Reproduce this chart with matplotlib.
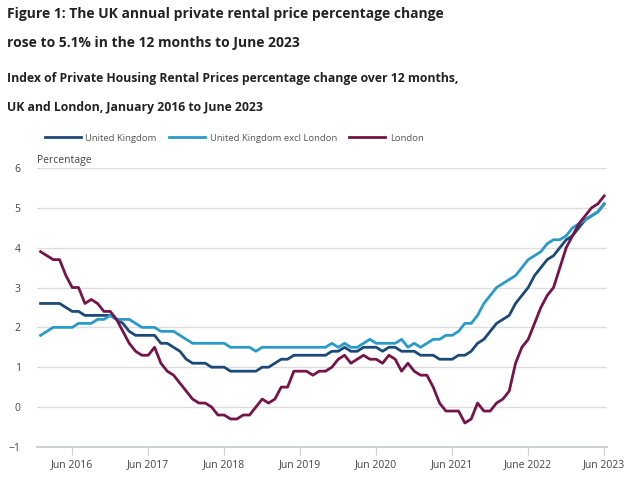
import matplotlib.pyplot as plt
import numpy as np

# 12-month % change, monthly from Jan 2016 to Jun 2023
uk = [2.6, 2.6, 2.6, 2.6, 2.5, 2.4, 2.4, 2.3, 2.3, 2.3, 2.3, 2.3,
      2.2, 2.1, 1.9, 1.8, 1.8, 1.8, 1.8, 1.6, 1.6, 1.5, 1.4, 1.2,
      1.1, 1.1, 1.1, 1.0, 1.0, 1.0, 0.9, 0.9, 0.9, 0.9, 0.9, 1.0,
      1.0, 1.1, 1.2, 1.2, 1.3, 1.3, 1.3, 1.3, 1.3, 1.3, 1.4, 1.4,
      1.5, 1.4, 1.4, 1.5, 1.5, 1.5, 1.4, 1.5, 1.5, 1.4, 1.4, 1.4,
      1.3, 1.3, 1.3, 1.2, 1.2, 1.2, 1.3, 1.3, 1.4, 1.6, 1.7, 1.9,
      2.1, 2.2, 2.3, 2.6, 2.8, 3.0, 3.3, 3.5, 3.7, 3.8, 4.0, 4.2,
      4.3, 4.5, 4.7, 4.8, 4.9, 5.1]

uk_excl_london = [1.8, 1.9, 2.0, 2.0, 2.0, 2.0, 2.1, 2.1, 2.1, 2.2, 2.2, 2.3,
                  2.2, 2.2, 2.2, 2.1, 2.0, 2.0, 2.0, 1.9, 1.9, 1.9, 1.8, 1.7,
                  1.6, 1.6, 1.6, 1.6, 1.6, 1.6, 1.5, 1.5, 1.5, 1.5, 1.4, 1.5,
                  1.5, 1.5, 1.5, 1.5, 1.5, 1.5, 1.5, 1.5, 1.5, 1.5, 1.6, 1.5,
                  1.6, 1.5, 1.5, 1.6, 1.7, 1.6, 1.6, 1.6, 1.6, 1.7, 1.5, 1.6,
                  1.5, 1.6, 1.7, 1.7, 1.8, 1.8, 1.9, 2.1, 2.1, 2.3, 2.6, 2.8,
                  3.0, 3.1, 3.2, 3.3, 3.5, 3.7, 3.8, 3.9, 4.1, 4.2, 4.2, 4.3,
                  4.5, 4.6, 4.7, 4.8, 4.9, 5.1]

london = [3.9, 3.8, 3.7, 3.7, 3.3, 3.0, 3.0, 2.6, 2.7, 2.6, 2.4, 2.4,
          2.2, 1.9, 1.6, 1.4, 1.3, 1.3, 1.5, 1.1, 0.9, 0.8, 0.6, 0.4,
          0.2, 0.1, 0.1, 0.0, -0.2, -0.2, -0.3, -0.3, -0.2, -0.2, 0.0, 0.2,
          0.1, 0.2, 0.5, 0.5, 0.9, 0.9, 0.9, 0.8, 0.9, 0.9, 1.0, 1.2,
          1.3, 1.1, 1.2, 1.3, 1.2, 1.2, 1.1, 1.3, 1.2, 0.9, 1.1, 0.9,
          0.8, 0.8, 0.5, 0.1, -0.1, -0.1, -0.1, -0.4, -0.3, 0.1, -0.1, -0.1,
          0.1, 0.2, 0.4, 1.1, 1.5, 1.7, 2.1, 2.5, 2.8, 3.0, 3.5, 4.0,
          4.3, 4.6, 4.8, 5.0, 5.1, 5.3]

tick_labels = ['Jun 2016', 'Jun 2017', 'Jun 2018', 'Jun 2019', 'Jun 2020',
               'Jun 2021', 'June 2022', 'Jun 2023']

plt.rcParams['font.family'] = ['Open Sans', 'DejaVu Sans']

fig = plt.figure(figsize=(6.34, 4.8), dpi=100)
ax = fig.add_axes([0.059, 0.069, 0.898, 0.581])

meses = np.arange(len(uk))
ax.plot(meses, uk, color='#1b4a78', lw=2, label='United Kingdom', zorder=3)
ax.plot(meses, uk_excl_london, color='#2a9bc9', lw=2,
        label='United Kingdom excl London', zorder=3)
ax.plot(meses, london, color='#741448', lw=2, label='London', zorder=4)

ax.set_xlim(-0.5, 89.4)
ax.set_ylim(-1, 6)
ax.set_yticks(range(-1, 7))
ax.set_xticks(np.arange(5, 90, 12))
ax.set_xticklabels(tick_labels)
ax.grid(axis='y', color='#dddddd', lw=1)
ax.set_axisbelow(True)
for s in ['top', 'right', 'left']:
    ax.spines[s].set_visible(False)
ax.spines['bottom'].set_color('#c8ccd0')
ax.spines['bottom'].set_linewidth(1.3)
ax.tick_params(axis='y', length=0, pad=12, labelsize=7.5, labelcolor='#444444')
ax.tick_params(axis='x', length=6, color='#c8ccd0', labelsize=7.5,
               labelcolor='#444444', pad=3)

ax.text(0.0, 1.008, 'Percentage', transform=ax.transAxes, fontsize=7.5,
        color='#444444', va='bottom', ha='left')

# títulos
fig.text(0.011, 0.9625, 'Figure 1: The UK annual private rental price percentage change',
         fontsize=10.0, fontweight='bold', color='#222222', va='baseline')
fig.text(0.011, 0.903, 'rose to 5.1% in the 12 months to June 2023',
         fontsize=10.0, fontweight='bold', color='#222222', va='baseline')
fig.text(0.011, 0.829, 'Index of Private Housing Rental Prices percentage change over 12 months,',
         fontsize=8.8, fontweight='bold', color='#222222', va='baseline')
fig.text(0.011, 0.769, 'UK and London, January 2016 to June 2023',
         fontsize=8.8, fontweight='bold', color='#222222', va='baseline')

fig.legend(loc='center left', bbox_to_anchor=(0.057, 0.712), ncol=3, frameon=False,
           fontsize=6.8, labelcolor='#555555', handlelength=3.8, columnspacing=1.3,
           handletextpad=0.5)

plt.savefig('out.png', dpi=100)
